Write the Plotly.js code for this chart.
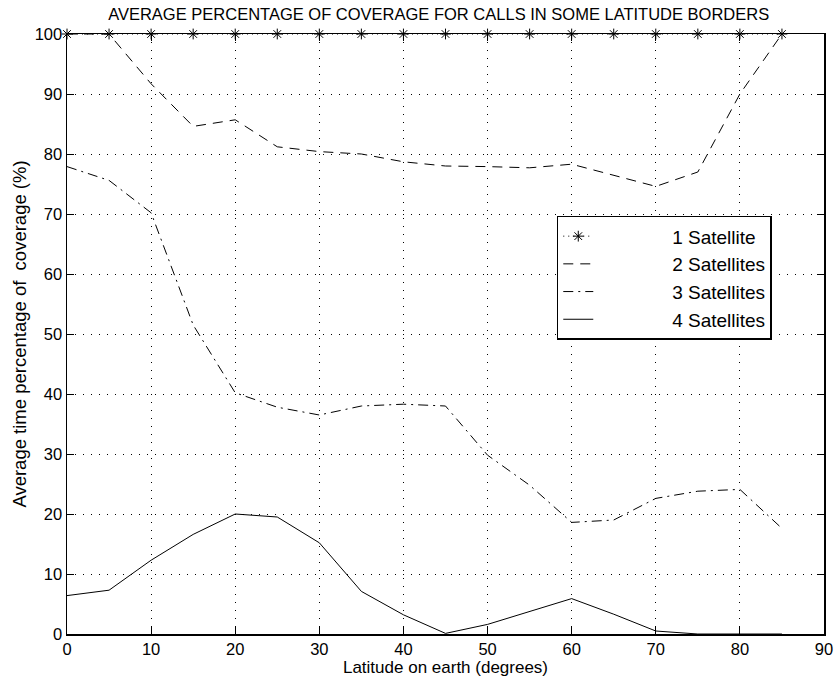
<!DOCTYPE html>
<html><head><meta charset="utf-8">
<script src="https://cdn.plot.ly/plotly-3.0.1.min.js"></script>
<style>body{margin:0;background:#fff}#c{width:838px;height:685px}</style>
</head><body><div id="c"></div>
<script>
const lat = [0,5,10,15,20,25,30,35,40,45,50,55,60,65,70,75,80,85];
const sat1 = [100,100,100,100,100,100,100,100,100,100,100,100,100,100,100,100,100,100];
const sat2 = [100,100,91.7,84.6,85.7,81.2,80.4,80.0,78.7,78.0,77.9,77.7,78.3,76.5,74.6,77.0,90.0,100];
const sat3 = [77.9,75.6,70.2,51.5,40.2,37.8,36.5,38.0,38.3,38.0,29.8,24.8,18.6,19.0,22.6,23.8,24.1,17.6];
const sat4 = [6.4,7.3,12.3,16.6,20.0,19.5,15.2,7.1,3.2,0.1,1.6,3.7,5.9,3.3,0.5,0,0,0];
const names = ['1 Satellite','2 Satellites','3 Satellites','4 Satellites'];
const pad = '\u00a0'.repeat(14);
const font = 'Liberation Sans, Arial, sans-serif';
const traces = [
  {x: lat, y: sat1, name: pad + names[0], mode: 'lines+markers', cliponaxis: false,
   line: {color: '#000', width: 1, dash: '1px,4px'},
   marker: {symbol: 'asterisk-open', size: 9, color: '#000', line: {color: '#000', width: 1}}},
  {x: lat, y: sat2, name: pad + names[1], mode: 'lines', cliponaxis: false,
   line: {color: '#000', width: 1, dash: '10px,7px'}},
  {x: lat, y: sat3, name: pad + names[2], mode: 'lines', cliponaxis: false,
   line: {color: '#000', width: 1, dash: '10px,5px,2px,5px'}},
  {x: lat, y: sat4, name: pad + names[3], mode: 'lines', cliponaxis: false,
   line: {color: '#000', width: 1}}
];
const axisCommon = {
  showline: true, linecolor: '#000', linewidth: 1.5, mirror: 'ticks',
  ticks: 'inside', ticklen: 7, tickcolor: '#000', tickwidth: 1,
  showgrid: true, gridcolor: '#000', gridwidth: 1, griddash: '1px,7px',
  zeroline: false, tickfont: {family: font, size: 16.5, color: '#000'}
};
const layout = {
  width: 838, height: 685,
  margin: {l: 67, r: 14, t: 34, b: 51},
  paper_bgcolor: '#fff', plot_bgcolor: '#fff',
  font: {family: font, color: '#000'},
  title: {text: 'AVERAGE PERCENTAGE OF COVERAGE FOR CALLS IN SOME LATITUDE BORDERS',
          font: {family: font, size: 16.5, color: '#000'}, x: 0.491, xref: 'paper', xanchor: 'center', y: 0.979, yanchor: 'middle'},
  xaxis: Object.assign({}, axisCommon, {range: [0, 90], tick0: 0, dtick: 10,
    title: {text: 'Latitude on earth (degrees)', font: {family: font, size: 17, color: '#000'}, standoff: 0}}),
  yaxis: Object.assign({}, axisCommon, {range: [0, 100], tick0: 0, dtick: 10,
    title: {text: 'Average time percentage of \u00a0coverage (%)', font: {family: font, size: 18.5, color: '#000'}, standoff: 3}}),
  showlegend: true,
  legend: {x: 0.647, y: 0.697, xanchor: 'left', yanchor: 'top', bgcolor: '#fff',
    bordercolor: '#000', borderwidth: 1.5, font: {family: font, size: 19, color: '#000'},
    tracegroupgap: 0, itemwidth: 30}
};
Plotly.newPlot('c', traces, layout, {displayModeBar: false, staticPlot: true});
</script></body></html>
